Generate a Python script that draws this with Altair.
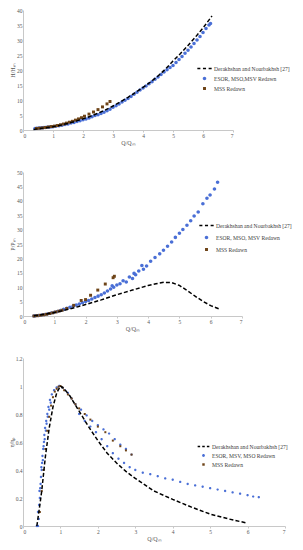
import altair as alt
import pandas as pd

SER = ["Derakhshan and Nourbakhsh [27]", "ESOR, MSO,MSV Redawn", "MSS Redawn"]
SER2 = ["Derakhshan and Nourbakhsh [27]", "ESOR, MSO, MSV Redawn", "MSS Redawn"]
SER3 = ["Derakhshan and Nourbakhsh [27]", "ESOR, MSV, MSO Redawn", "MSS Redawn"]

# ---------------- Panel 1: H/Hm ----------------
h_line_x = [0.35, 0.5, 0.75, 1.0, 1.25, 1.5, 1.75, 2.0, 2.25, 2.5, 2.75, 3.0, 3.25, 3.5, 3.75,
            4.0, 4.25, 4.5, 4.75, 5.0, 5.25, 5.5, 5.75, 6.0, 6.3]
h_line_y = [0.2, 0.4, 0.7, 1.1, 1.6, 2.2, 2.9, 3.7, 4.6, 5.6, 6.7, 8.0, 9.4, 10.9, 12.5,
            14.2, 16.0, 18.0, 20.3, 23.0, 25.5, 28.2, 31.0, 34.0, 38.0]
h_blue_x = [0.40, 0.45, 0.50, 0.55, 0.60, 0.65, 0.70, 0.75, 0.80, 0.85, 0.90, 0.95, 1.00, 1.10,
            1.20, 1.30, 1.40, 1.50, 1.60, 1.70, 1.80, 1.90, 2.00, 2.10, 2.20, 2.30, 2.40, 2.50,
            2.60, 2.70, 2.80, 2.90, 3.00, 3.10, 3.20, 3.30, 3.40, 3.50, 3.60, 3.70, 3.80, 3.90,
            4.00, 4.10, 4.20, 4.30, 4.40, 4.50, 4.60, 4.70, 4.80, 4.90, 5.00, 5.10, 5.20, 5.30,
            5.40, 5.50, 5.60, 5.70, 5.80, 5.90, 6.00, 6.10, 6.20, 6.25]
h_blue_y = [0.5, 0.55, 0.6, 0.65, 0.7, 0.75, 0.8, 0.85, 0.9, 0.95, 1.0, 1.05, 1.1, 1.25,
            1.4, 1.6, 1.8, 2.0, 2.3, 2.5, 2.8, 3.1, 3.4, 3.7, 4.0, 4.4, 4.8, 5.1,
            5.5, 5.9, 6.4, 6.9, 7.6, 8.1, 8.7, 9.3, 9.9, 10.5, 11.2, 11.9, 12.6, 13.3,
            14.0, 14.7, 15.4, 16.1, 16.9, 17.7, 18.5, 19.3, 20.1, 20.8, 21.5, 22.5, 23.5, 24.5,
            25.6, 26.6, 27.7, 28.8, 30.0, 31.2, 32.5, 33.8, 35.0, 35.5]
h_brown_x = [0.45, 0.55, 0.65, 0.75, 0.85, 0.95, 1.05, 1.15, 1.25, 1.35, 1.45, 1.55, 1.65,
             1.75, 1.85, 1.95, 2.05, 2.2, 2.35, 2.5, 2.65, 2.8, 2.9]
h_brown_y = [0.5, 0.6, 0.7, 0.85, 1.0, 1.15, 1.3, 1.5, 1.75, 2.0, 2.3, 2.6, 2.9,
             3.3, 3.7, 4.1, 4.6, 5.3, 6.0, 6.8, 7.7, 8.7, 9.5]

# ---------------- Panel 2: P/Pm ----------------
p_line_x = [0.35, 0.5, 0.75, 1.0, 1.25, 1.5, 1.75, 2.0, 2.25, 2.5, 2.75, 3.0, 3.25, 3.5, 3.75,
            4.0, 4.25, 4.5, 4.75, 5.0, 5.25, 5.5, 5.75, 6.0, 6.3]
p_line_y = [0.1, 0.3, 0.7, 1.2, 1.8, 2.5, 3.2, 4.0, 4.8, 5.6, 6.5, 7.4, 8.2, 9.0, 9.8,
            10.6, 11.2, 11.7, 11.6, 10.6, 8.8, 6.9, 5.1, 3.6, 2.3]
p_blue_x = [0.35, 0.4, 0.5, 0.6, 0.7, 0.8, 0.9, 1.0, 1.1, 1.2, 1.3, 1.4, 1.5, 1.6, 1.7, 1.8,
            1.9, 2.0, 2.1, 2.2, 2.3, 2.4, 2.5, 2.6, 2.7, 2.8, 2.85, 2.9, 3.0, 3.1, 3.2, 3.3,
            3.4, 3.5, 3.55, 3.6, 3.7, 3.8, 3.85, 3.95, 4.08, 4.22, 4.37, 4.49, 4.62, 4.75,
            4.87, 5.0, 5.11, 5.24, 5.36, 5.47, 5.6, 5.75, 5.88, 5.98, 6.12, 6.22]
p_blue_y = [0.0, 0.05, 0.2, 0.35, 0.55, 0.75, 1.0, 1.3, 1.6, 1.9, 2.3, 2.7, 3.0, 3.4, 3.8, 4.2,
            4.6, 5.0, 5.4, 5.9, 6.4, 6.9, 7.4, 8.0, 8.7, 9.4, 10.5, 10.0, 10.8, 11.2, 12.2, 11.8,
            13.5, 13.0, 14.8, 14.3, 15.6, 17.5, 16.2, 17.4, 19.0, 20.3, 21.6, 22.8, 24.2, 25.7,
            27.3, 28.7, 30.0, 31.5, 33.1, 34.7, 36.1, 39.0, 40.9, 42.0, 44.1, 46.4]
p_brown_x = [0.35, 0.45, 0.55, 0.65, 0.75, 0.85, 0.95, 1.05, 1.15, 1.25, 1.4, 1.62, 1.86,
             2.0, 2.16, 2.39, 2.63, 2.88, 2.92]
p_brown_y = [0.0, 0.1, 0.25, 0.4, 0.6, 0.85, 1.1, 1.4, 1.7, 2.0, 2.6, 3.7, 5.4,
             5.7, 7.2, 9.0, 11.1, 13.3, 13.8]

# ---------------- Panel 3: efficiency ----------------
e_line_x = [0.37, 0.45, 0.5, 0.6, 0.7, 0.8, 0.9, 1.0, 1.1, 1.25, 1.5, 1.75, 2.0, 2.25, 2.5,
            2.75, 3.0, 3.5, 4.0, 4.5, 5.0, 5.5, 6.0]
e_line_y = [0.0, 0.15, 0.25, 0.5, 0.7, 0.85, 0.95, 1.0, 0.98, 0.93, 0.82, 0.71, 0.61, 0.52,
            0.45, 0.39, 0.34, 0.25, 0.19, 0.135, 0.085, 0.05, 0.02]
e_blue_x = [0.37, 0.40, 0.42, 0.40, 0.43, 0.45, 0.44, 0.47, 0.48, 0.50, 0.51, 0.52, 0.54, 0.56,
            0.57, 0.59, 0.62, 0.65, 0.68, 0.72, 0.77, 0.83, 0.90, 0.97, 1.05, 1.12, 1.20, 1.30,
            1.40, 1.55, 1.70, 1.85, 2.00, 2.15, 2.30, 2.45, 2.60, 2.75, 2.90,
            1.50, 1.65, 1.80, 1.95, 2.10, 2.25, 2.40, 2.55, 2.70, 2.85, 3.00, 3.20, 3.40, 3.60,
            3.80, 4.00, 4.20, 4.40, 4.60, 4.80, 5.00, 5.20, 5.40, 5.60, 5.80, 6.00, 6.15, 6.30,
            0.46, 0.49, 0.53, 0.55, 0.58, 0.61, 0.63, 0.66, 0.70, 0.74]
e_blue_y = [0.0, 0.0, 0.05, 0.1, 0.15, 0.2, 0.25, 0.3, 0.35, 0.4, 0.45, 0.5, 0.55, 0.6,
            0.65, 0.7, 0.75, 0.8, 0.85, 0.9, 0.94, 0.97, 0.99, 1.0, 0.99, 0.97, 0.95, 0.91,
            0.87, 0.83, 0.79, 0.75, 0.72, 0.69, 0.66, 0.62, 0.58, 0.55, 0.51,
            0.80, 0.75, 0.71, 0.67, 0.62, 0.57, 0.52, 0.48, 0.45, 0.42, 0.40, 0.38, 0.37, 0.355,
            0.34, 0.33, 0.315, 0.30, 0.29, 0.28, 0.27, 0.26, 0.25, 0.24, 0.23, 0.22, 0.21, 0.205,
            0.27, 0.42, 0.47, 0.57, 0.62, 0.68, 0.73, 0.78, 0.83, 0.88]
e_brown_x = [0.45, 0.5, 0.55, 0.6, 0.65, 0.7, 0.75, 0.8, 0.85, 0.9, 0.95, 1.0, 1.05, 1.1, 1.2,
             1.3, 1.4, 1.5, 1.65, 1.8, 2.0, 2.2, 2.4, 2.6, 2.75, 2.9]
e_brown_y = [0.1, 0.25, 0.4, 0.55, 0.68, 0.78, 0.86, 0.92, 0.96, 0.98, 0.995, 1.0, 0.99, 0.97,
             0.94, 0.91, 0.87, 0.84, 0.8, 0.76, 0.71, 0.67, 0.61, 0.57, 0.54, 0.51]

BLUE = "#4a6fd6"
BROWN = "#6e4418"
FONT = "Liberation Serif"
GRAY = "#595959"
AXC = "#c8c8c8"

DASH_PATH = "M-1.3,-0.14H-0.75V0.14H-1.3Z M-0.28,-0.14H0.28V0.14H-0.28Z M0.75,-0.14H1.3V0.14H0.75Z"
CIRC_PATH = "M0,-0.32A0.32,0.32,0,1,1,0,0.32A0.32,0.32,0,1,1,0,-0.32Z"
SQ_PATH = "M-0.27,-0.27H0.27V0.27H-0.27Z"


def panel(names, lx, ly, bx, by, rx, ry, ymax, ystep, ytitle, w, h,
          lgx, lgy, lsize, lrow, psize):
    line_df = pd.DataFrame({"x": lx, "y": ly, "s": names[0]})
    pts_df = pd.concat([
        pd.DataFrame({"x": bx, "y": by, "s": names[1]}),
        pd.DataFrame({"x": rx, "y": ry, "s": names[2]}),
    ])
    xs = alt.Scale(domain=[0, 7], nice=False)
    ys = alt.Scale(domain=[0, ymax], nice=False)
    xax = alt.Axis(values=list(range(0, 8)), title="Q/Qₘ", format="~g")
    yvals = [round(i * ystep, 3) for i in range(int(round(ymax / ystep)) + 1)]
    yax = alt.Axis(values=yvals, title=ytitle, format="~g", ticks=False)
    cscale = alt.Scale(domain=names, range=["#000000", BLUE, BROWN])
    sscale = alt.Scale(domain=names, range=[DASH_PATH, CIRC_PATH, SQ_PATH])
    leg = alt.Legend(title=None, orient="none", legendX=lgx, legendY=lgy,
                     symbolSize=lsize, rowPadding=lrow)
    line = alt.Chart(line_df).mark_line(strokeDash=[4, 2.2], strokeWidth=1.5).encode(
        x=alt.X("x:Q", scale=xs, axis=xax),
        y=alt.Y("y:Q", scale=ys, axis=yax),
        color=alt.Color("s:N", scale=cscale, legend=leg),
    )
    pts = alt.Chart(pts_df).mark_point(filled=True, size=psize, opacity=1).encode(
        x=alt.X("x:Q", scale=xs, axis=xax),
        y=alt.Y("y:Q", scale=ys, axis=yax),
        color=alt.Color("s:N", scale=cscale, legend=leg),
        shape=alt.Shape("s:N", scale=sscale, legend=leg),
    )
    return alt.layer(pts, line).properties(width=w, height=h)


p1 = panel(SER, h_line_x, h_line_y, h_blue_x, h_blue_y, h_brown_x, h_brown_y,
           40, 5, "H/Hₘ", 210, 120, 176, 53, 121, 0, 120)
p2 = panel(SER2, p_line_x, p_line_y, p_blue_x, p_blue_y, p_brown_x, p_brown_y,
           50, 5, "P/Pₘ", 219, 144, 178, 48, 121, 2, 120)
p3 = panel(SER3, e_line_x, e_line_y, e_blue_x, e_blue_y, e_brown_x, e_brown_y,
           1.2, 0.2, "η/ηₚ", 262, 168, 176, 84, 81, 0, 55)

chart = alt.vconcat(p1, p2, p3, spacing=24).resolve_scale(
    color="independent", shape="independent"
).resolve_legend(
    color="independent", shape="independent"
).properties(padding={"left": 0, "top": 0, "right": 0, "bottom": 0}).configure_view(
    stroke=None
).configure_axis(
    grid=False,
    domainColor=AXC,
    tickColor=AXC,
    tickSize=2,
    labelFont=FONT,
    labelFontSize=5.5,
    labelColor=GRAY,
    labelPadding=1,
    titleFont=FONT,
    titleFontSize=6,
    titleFontWeight="normal",
    titleColor=GRAY,
    titlePadding=1,
).configure_legend(
    labelFont=FONT,
    labelFontSize=5.6,
    labelColor="#404040",
    labelOffset=4,
    symbolStrokeWidth=0,
)

chart.save("out.html", embed_options={"renderer": "svg", "actions": False})
